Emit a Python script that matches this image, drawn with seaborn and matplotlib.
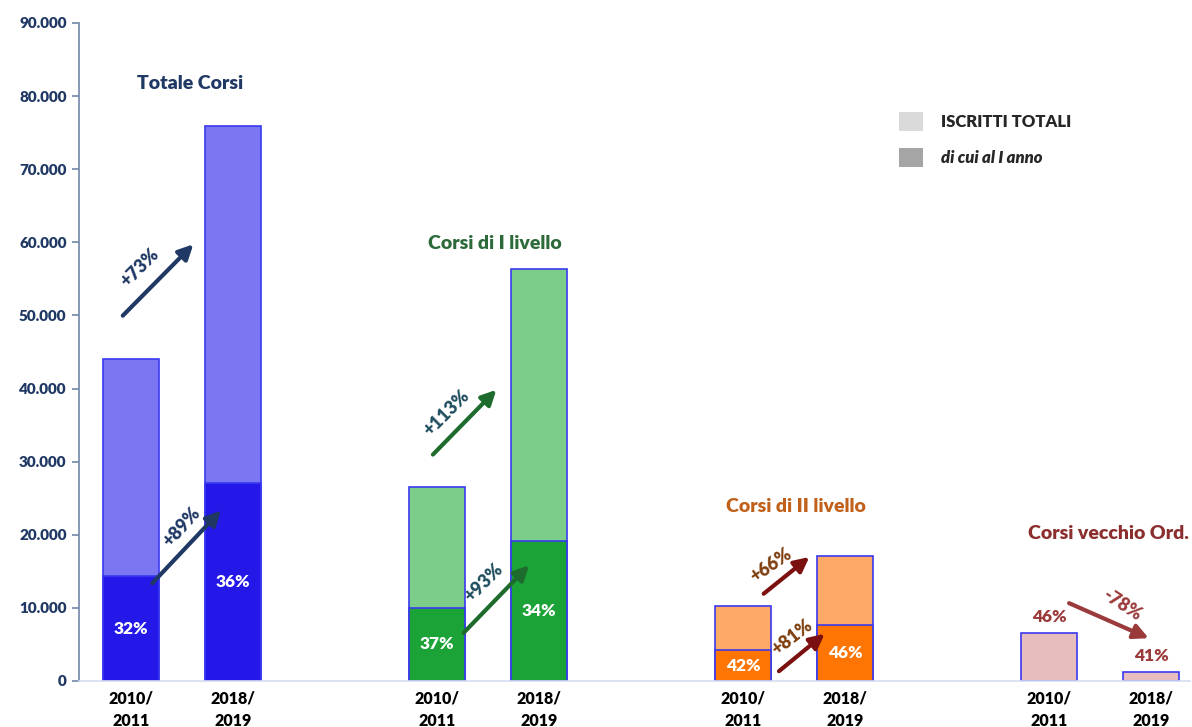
import matplotlib
matplotlib.use("Agg")
import matplotlib.pyplot as plt
import numpy as np
import pandas as pd
import seaborn as sns
from matplotlib.patches import Patch
from matplotlib.ticker import FuncFormatter

# dati: iscritti totali e di cui al I anno
anni = ["2010/\n2011", "2018/\n2019"]
gruppi = ["Totale Corsi", "Corsi di I livello", "Corsi di II livello", "Corsi vecchio Ord."]
posizioni = [0, 1, 3, 4, 6, 7, 9, 10]
iscritti_totali = [44100, 75900, 26500, 56300, 10300, 17100, 6600, 1200]
iscritti_primo_anno = [14300, 27100, 10000, 19100, 4200, 7700, 0, 0]
quota_primo_anno = ["32%", "36%", "37%", "34%", "42%", "46%", "46%", "41%"]
variazioni_totali = ["+73%", "+113%", "+66%", "-78%"]
variazioni_primo = ["+89%", "+93%", "+81%"]

col_chiari = ["#7B76F2", "#7B76F2", "#7DCD8A", "#7DCD8A", "#FDAA66", "#FDAA66", "#E8BDBD", "#E8BDBD"]
col_scuri = ["#2418E8", "#2418E8", "#1BA337", "#1BA337", "#FF7504", "#FF7504", "#E8BDBD", "#E8BDBD"]
col_titoli = ["#1F3864", "#2D6A3A", "#C0601A", "#8B2E2E"]
col_frecce = ["#1F3864", "#1E6B2E", "#7B1010", "#9B3A3A"]
col_testo_frecce = ["#1F3864", "#1F4E5F", "#7F3F10", "#9B3A3A"]

df = pd.DataFrame({
    "pos": posizioni,
    "totale": iscritti_totali,
    "primo": iscritti_primo_anno,
})

sns.set_style("white")
plt.rcParams["font.family"] = ["Lato", "DejaVu Sans"]
PESO = "heavy"

fig = plt.figure(figsize=(11.92, 7.27), dpi=100)
ax = fig.add_axes([79 / 1192, 1 - 681 / 727, 1111 / 1192, 658 / 727])

sns.barplot(data=df, x="pos", y="totale", hue="pos", palette=col_chiari,
            native_scale=True, legend=False, width=0.55, edgecolor="#3A3AF0",
            linewidth=1.2, ax=ax, saturation=1)
sns.barplot(data=df, x="pos", y="primo", hue="pos", palette=col_scuri,
            native_scale=True, legend=False, width=0.55, edgecolor="#3A3AF0",
            linewidth=1.2, ax=ax, saturation=1)

ax.set_xlim(-0.51, 10.38)
ax.set_ylim(0, 90000)
ax.set_yticks(np.arange(0, 90001, 10000))
ax.yaxis.set_major_formatter(FuncFormatter(lambda v, p: f"{int(v):,}".replace(",", ".")))
ax.set_xticks(posizioni)
ax.set_xticklabels(anni * 4, fontsize=11.5, fontweight=PESO, color="black", linespacing=1.45)
ax.set_xlabel("")
ax.set_ylabel("")
for lab in ax.get_yticklabels():
    lab.set_fontweight(PESO)
    lab.set_color("#1F3864")
    lab.set_fontsize(11)
ax.tick_params(axis="y", length=5, width=1.2, color="#6F86A8", left=True, pad=4)
ax.tick_params(axis="x", length=0, pad=7)
for s in ["top", "right"]:
    ax.spines[s].set_visible(False)
ax.spines["left"].set_color("#6F86A8")
ax.spines["left"].set_linewidth(1.2)
ax.spines["bottom"].set_color("#D4DDF0")
ax.spines["bottom"].set_linewidth(1.2)

# etichette percentuali
for i, p in enumerate(posizioni):
    if iscritti_primo_anno[i] > 0:
        ax.text(p, iscritti_primo_anno[i] / 2, quota_primo_anno[i], ha="center", va="center",
                color="white", fontsize=12.5, fontweight=PESO)
    else:
        ax.text(p, iscritti_totali[i] + 2200, quota_primo_anno[i], ha="center", va="center",
                color="#9B3A3A", fontsize=12.5, fontweight=PESO)

# titoli dei gruppi
pos_titoli = [(0.58, 81700), (3.57, 59800), (6.52, 23900), (9.58, 20200)]
for (x, y), t, c in zip(pos_titoli, gruppi, col_titoli):
    ax.text(x, y, t, ha="center", va="center", color=c, fontsize=14, fontweight=PESO)

# frecce variazioni
frecce_tot = [((-0.10, 49700), (0.63, 60000), (0.09, 56500), 45),
              ((2.94, 30700), (3.60, 40100), (3.09, 36700), 45),
              ((6.18, 11700), (6.67, 17200), (6.27, 15800), 35),
              ((9.17, 10800), (10.0, 5700), (9.71, 10400), -33)]
frecce_primo = [((0.19, 13100), (0.90, 23600), (0.50, 21000), 48),
                ((3.24, 6300), (3.92, 16100), (3.46, 13500), 45),
                ((6.33, 1100), (6.82, 6700), (6.48, 6000), 38)]

for i, (a, b, t, rot) in enumerate(frecce_tot):
    ax.annotate("", xy=b, xytext=a,
                arrowprops=dict(arrowstyle="-|>", lw=3, color=col_frecce[i], mutation_scale=22))
    ax.text(t[0], t[1], variazioni_totali[i], rotation=rot, ha="center", va="center",
            color=col_testo_frecce[i], fontsize=13, fontweight=PESO)
for i, (a, b, t, rot) in enumerate(frecce_primo):
    ax.annotate("", xy=b, xytext=a,
                arrowprops=dict(arrowstyle="-|>", lw=3, color=col_frecce[i], mutation_scale=22))
    ax.text(t[0], t[1], variazioni_primo[i], rotation=rot, ha="center", va="center",
            color=col_testo_frecce[i], fontsize=13, fontweight=PESO)

# legenda
handles = [Patch(facecolor="#DADADA", edgecolor="none"), Patch(facecolor="#A5A5A5", edgecolor="none")]
leg = ax.legend(handles, ["ISCRITTI TOTALI", "di cui al I anno"], loc="upper left",
                bbox_to_anchor=(0.725, 0.888), frameon=False, handlelength=1.4,
                handleheight=1.4, handletextpad=1.1, labelspacing=1.0, fontsize=12)
leg.get_texts()[0].set_fontweight(PESO)
leg.get_texts()[1].set_fontweight(PESO)
leg.get_texts()[1].set_fontstyle("italic")

fig.savefig("out.png", dpi=100)
